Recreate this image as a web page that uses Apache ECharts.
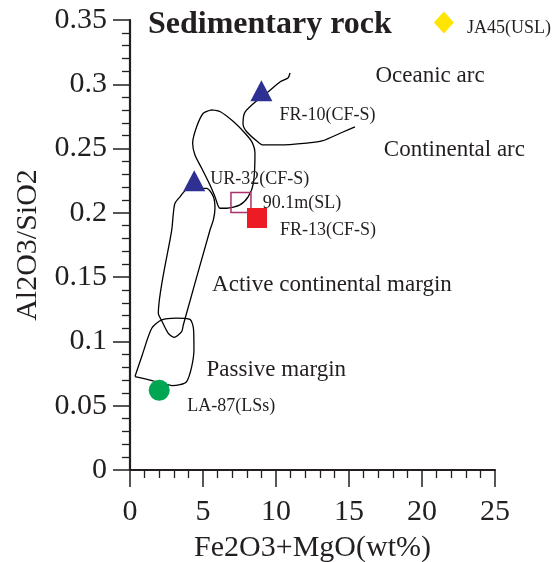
<!DOCTYPE html>
<html>
<head>
<meta charset="utf-8">
<script src="https://cdn.jsdelivr.net/npm/echarts@6/dist/echarts.min.js"></script>
<style>
  html, body { margin: 0; padding: 0; background: #fff; }
  #chart { width: 557px; height: 562px; }
</style>
</head>
<body>
<div id="chart"></div>
<script>
// Sample points: [Fe2O3+MgO (wt%), Al2O3/SiO2]
const sampleNames = ['JA45(USL)', 'FR-10(CF-S)', 'UR-32(CF-S)', '90.1m(SL)', 'FR-13(CF-S)', 'LA-87(LSs)'];
const sampleX = [21.5, 9.0, 4.4, 7.6, 8.7, 2.0];
const sampleY = [0.348, 0.295, 0.225, 0.208, 0.196, 0.062];

// Tectonic-setting field boundaries, in data units
const oceanicArcLine = [
  [10.96, 0.3088], [10.82, 0.3049], [10.27, 0.3018], [9.45, 0.2940], [8.90, 0.2893],
  [7.88, 0.2784], [7.74, 0.2691], [8.01, 0.2629], [8.77, 0.2551], [9.11, 0.2528],
  [10.27, 0.2528], [12.12, 0.2543], [13.15, 0.2559], [14.59, 0.2629], [15.41, 0.2668]
];
const continentalArcField = [
  [5.60, 0.2801], [5.02, 0.2775], [4.57, 0.2671], [4.29, 0.2541], [4.45, 0.2450],
  [4.91, 0.2347], [5.48, 0.2217], [5.82, 0.2126], [6.16, 0.2036], [6.62, 0.2036],
  [7.53, 0.2062], [8.10, 0.2126], [8.45, 0.2230], [8.56, 0.2464], [8.34, 0.2554],
  [7.88, 0.2619], [7.08, 0.2710], [6.16, 0.2788], [5.60, 0.2801]
];
const activeMarginField = [
  [3.42, 0.2124], [3.97, 0.2186], [5.25, 0.2191], [5.71, 0.2126], [5.82, 0.2036],
  [5.71, 0.1945], [5.48, 0.1867], [3.65, 0.1128], [3.54, 0.1076], [3.01, 0.1032],
  [2.62, 0.1063], [2.17, 0.1161], [1.94, 0.1219], [2.86, 0.1867], [2.97, 0.1997],
  [3.08, 0.2074], [3.42, 0.2124]
];
const passiveMarginField = [
  [0.34, 0.0727], [0.80, 0.0881], [1.49, 0.1102], [2.17, 0.1167], [3.15, 0.1182],
  [4.11, 0.1171], [4.35, 0.1097], [4.38, 0.0933], [3.88, 0.0687], [2.88, 0.0657],
  [1.51, 0.0696], [0.34, 0.0727]
];

// Field names, anchored at the left-middle of each label
const fieldLabels = ['Oceanic arc', 'Continental arc', 'Active continental margin', 'Passive margin'];
const fieldLabelX = [16.78, 17.35, 5.59, 5.21];
const fieldLabelY = [0.3062, 0.2490, 0.1440, 0.0780];

const FONT = 'Liberation Serif';
const INK = '#231f20';

// Per-sample marker styling
const markerStyles = [
  { symbol: 'diamond', symbolSize: [20, 22], itemStyle: { color: '#ffe500', opacity: 1 }, off: [13, 5.5] },
  { symbol: 'triangle', symbolSize: [22, 21], itemStyle: { color: '#2e3192', opacity: 1 }, off: [7, 25] },
  { symbol: 'triangle', symbolSize: [22, 21], itemStyle: { color: '#2e3192', opacity: 1 }, off: [5, -1] },
  { symbol: 'rect', symbolSize: 20, itemStyle: { color: 'rgba(0,0,0,0)', borderColor: '#a8336a', borderWidth: 1.5, opacity: 1 }, off: [11, 0.5] },
  { symbol: 'rect', symbolSize: 20, itemStyle: { color: '#ed1c24', opacity: 1 }, off: [13, 12.7] },
  { symbol: 'circle', symbolSize: 21, itemStyle: { color: '#00a651', opacity: 1 }, off: [17.5, 15.5] }
];

const sampleData = sampleNames.map((name, i) => ({
  name: name,
  value: [sampleX[i], sampleY[i]],
  symbol: markerStyles[i].symbol,
  symbolSize: markerStyles[i].symbolSize,
  itemStyle: markerStyles[i].itemStyle,
  label: {
    show: true,
    position: 'right',
    distance: 0,
    offset: markerStyles[i].off,
    formatter: name,
    fontFamily: FONT,
    fontSize: 18,
    color: INK,
    opacity: 1,
    align: 'left',
    verticalAlign: 'middle'
  }
}));

function boundary(data) {
  return {
    type: 'line',
    data: data,
    symbol: 'none',
    smooth: 0.25,
    silent: true,
    z: 1,
    lineStyle: { color: '#000', width: 1.3 }
  };
}

const chart = echarts.init(document.getElementById('chart'), null, { renderer: 'canvas' });

chart.setOption({
  animation: false,
  backgroundColor: '#fff',
  title: {
    text: 'Sedimentary rock',
    left: 143,
    top: 4,
    textStyle: { fontFamily: FONT, fontSize: 32, fontWeight: 'bold', color: INK }
  },
  grid: { left: 130, top: 20, right: 62, bottom: 92, containLabel: false, outerBoundsMode: 'none' },
  xAxis: {
    type: 'value',
    min: 0, max: 25, interval: 5,
    name: 'Fe2O3+MgO(wt%)',
    nameLocation: 'middle',
    nameGap: 63,
    nameTextStyle: { fontFamily: FONT, fontSize: 30, color: INK },
    axisLine: { show: true, lineStyle: { color: INK, width: 2.2 } },
    axisTick: { show: true, length: 17, lineStyle: { color: INK, width: 1.5 } },
    minorTick: { show: true, splitNumber: 5, length: 8, lineStyle: { color: INK, width: 1.3 } },
    splitLine: { show: false },
    axisLabel: { fontFamily: FONT, fontSize: 30, color: INK, margin: 27 }
  },
  yAxis: {
    type: 'value',
    min: 0, max: 0.35, interval: 0.05,
    name: 'Al2O3/SiO2',
    nameLocation: 'middle',
    nameGap: 83,
    nameTextStyle: { fontFamily: FONT, fontSize: 30, color: INK },
    axisLine: { show: true, lineStyle: { color: INK, width: 2.2 } },
    axisTick: { show: true, length: 17, lineStyle: { color: INK, width: 1.5 } },
    minorTick: { show: true, splitNumber: 5, length: 8, lineStyle: { color: INK, width: 1.3 } },
    splitLine: { show: false },
    axisLabel: { fontFamily: FONT, fontSize: 30, color: INK, margin: 23 }
  },
  series: [
    boundary(oceanicArcLine),
    boundary(continentalArcField),
    boundary(activeMarginField),
    boundary(passiveMarginField),
    {
      // field names placed at data coordinates with an invisible anchor
      type: 'scatter',
      silent: true,
      z: 2,
      symbol: 'circle',
      symbolSize: 1,
      itemStyle: { color: 'rgba(0,0,0,0)', opacity: 1 },
      data: fieldLabels.map((t, i) => ({
        value: [fieldLabelX[i], fieldLabelY[i]],
        label: {
          show: true,
          position: 'right',
          distance: 0,
          formatter: t,
          fontFamily: FONT,
          fontSize: 23,
          color: INK,
          opacity: 1,
          align: 'left',
          verticalAlign: 'middle'
        }
      }))
    },
    {
      type: 'scatter',
      z: 3,
      data: sampleData
    }
  ]
});
</script>
</body>
</html>
